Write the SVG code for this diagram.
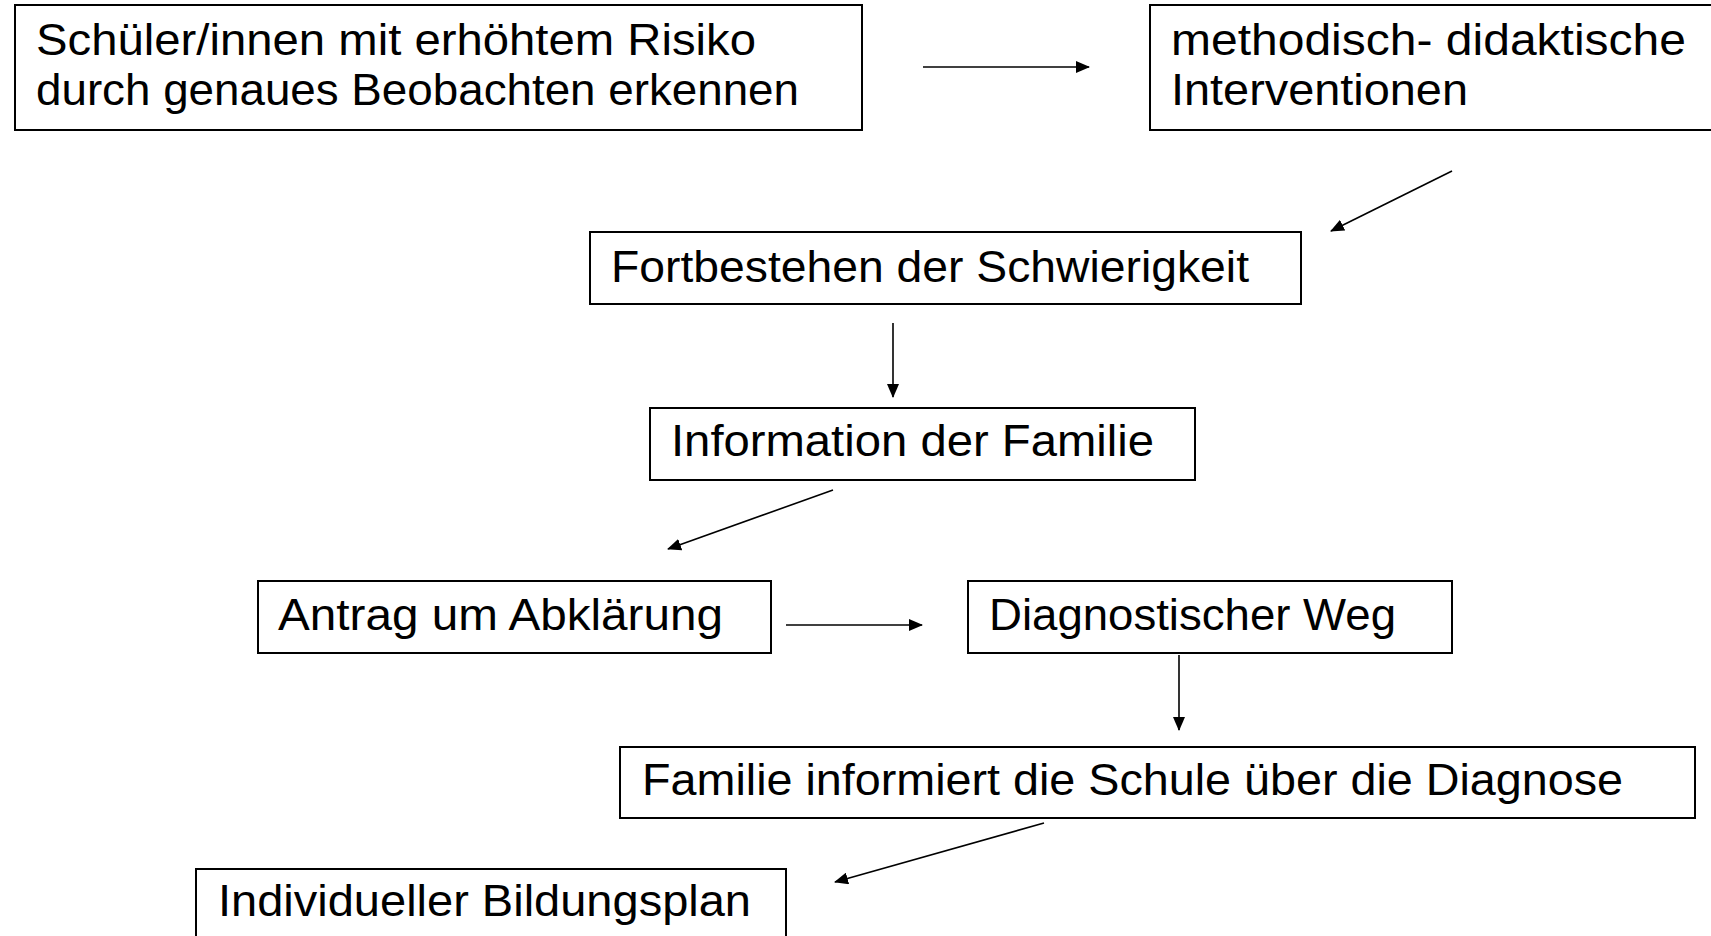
<svg xmlns="http://www.w3.org/2000/svg" width="1711" height="936" viewBox="0 0 1711 936">
<style>
.box{fill:#fff;stroke:#000;stroke-width:2}
.t{font-family:"Liberation Sans","Open Sans",sans-serif;font-size:44px;fill:#000}
.c{stroke:#000;stroke-width:1.6;fill:none;marker-end:url(#ah)}
</style>
<defs>
<marker id="ah" markerUnits="userSpaceOnUse" markerWidth="14" markerHeight="12" refX="13" refY="6" orient="auto">
<path d="M0,0 L14,6 L0,12 z" fill="#000"/>
</marker>
</defs>
<rect width="1711" height="936" fill="#fff"/>
<g id="n1"><rect class="box" x="15" y="5" width="847" height="125"/>
<text class="t" x="36" y="55" textLength="720" lengthAdjust="spacingAndGlyphs">Schüler/innen mit erhöhtem Risiko</text>
<text class="t" x="36" y="105" textLength="763" lengthAdjust="spacingAndGlyphs">durch genaues Beobachten erkennen</text></g>
<g id="n2"><rect class="box" x="1150" y="5" width="570" height="125"/>
<text class="t" x="1171" y="55" textLength="515" lengthAdjust="spacingAndGlyphs">methodisch- didaktische</text>
<text class="t" x="1171" y="105" textLength="297" lengthAdjust="spacingAndGlyphs">Interventionen</text></g>
<g id="n3"><rect class="box" x="590" y="232" width="711" height="72"/>
<text class="t" x="611" y="282" textLength="638" lengthAdjust="spacingAndGlyphs">Fortbestehen der Schwierigkeit</text></g>
<g id="n4"><rect class="box" x="650" y="408" width="545" height="72"/>
<text class="t" x="671" y="456" textLength="483" lengthAdjust="spacingAndGlyphs">Information der Familie</text></g>
<g id="n5"><rect class="box" x="258" y="581" width="513" height="72"/>
<text class="t" x="278" y="630" textLength="445" lengthAdjust="spacingAndGlyphs">Antrag um Abklärung</text></g>
<g id="n6"><rect class="box" x="968" y="581" width="484" height="72"/>
<text class="t" x="989" y="630" textLength="407" lengthAdjust="spacingAndGlyphs">Diagnostischer Weg</text></g>
<g id="n7"><rect class="box" x="620" y="747" width="1075" height="71"/>
<text class="t" x="642" y="795" textLength="981" lengthAdjust="spacingAndGlyphs">Familie informiert die Schule über die Diagnose</text></g>
<g id="n8"><rect class="box" x="196" y="869" width="590" height="80"/>
<text class="t" x="218" y="916" textLength="533" lengthAdjust="spacingAndGlyphs">Individueller Bildungsplan</text></g>
<g id="connectors">
<line class="c" x1="923" y1="67" x2="1089" y2="67"/>
<line class="c" x1="1452" y1="171" x2="1331" y2="231"/>
<line class="c" x1="893" y1="323" x2="893" y2="397"/>
<line class="c" x1="833" y1="490" x2="668" y2="549"/>
<line class="c" x1="786" y1="625" x2="922" y2="625"/>
<line class="c" x1="1179" y1="655" x2="1179" y2="730"/>
<line class="c" x1="1044" y1="823" x2="835" y2="882"/>
</g>
</svg>
